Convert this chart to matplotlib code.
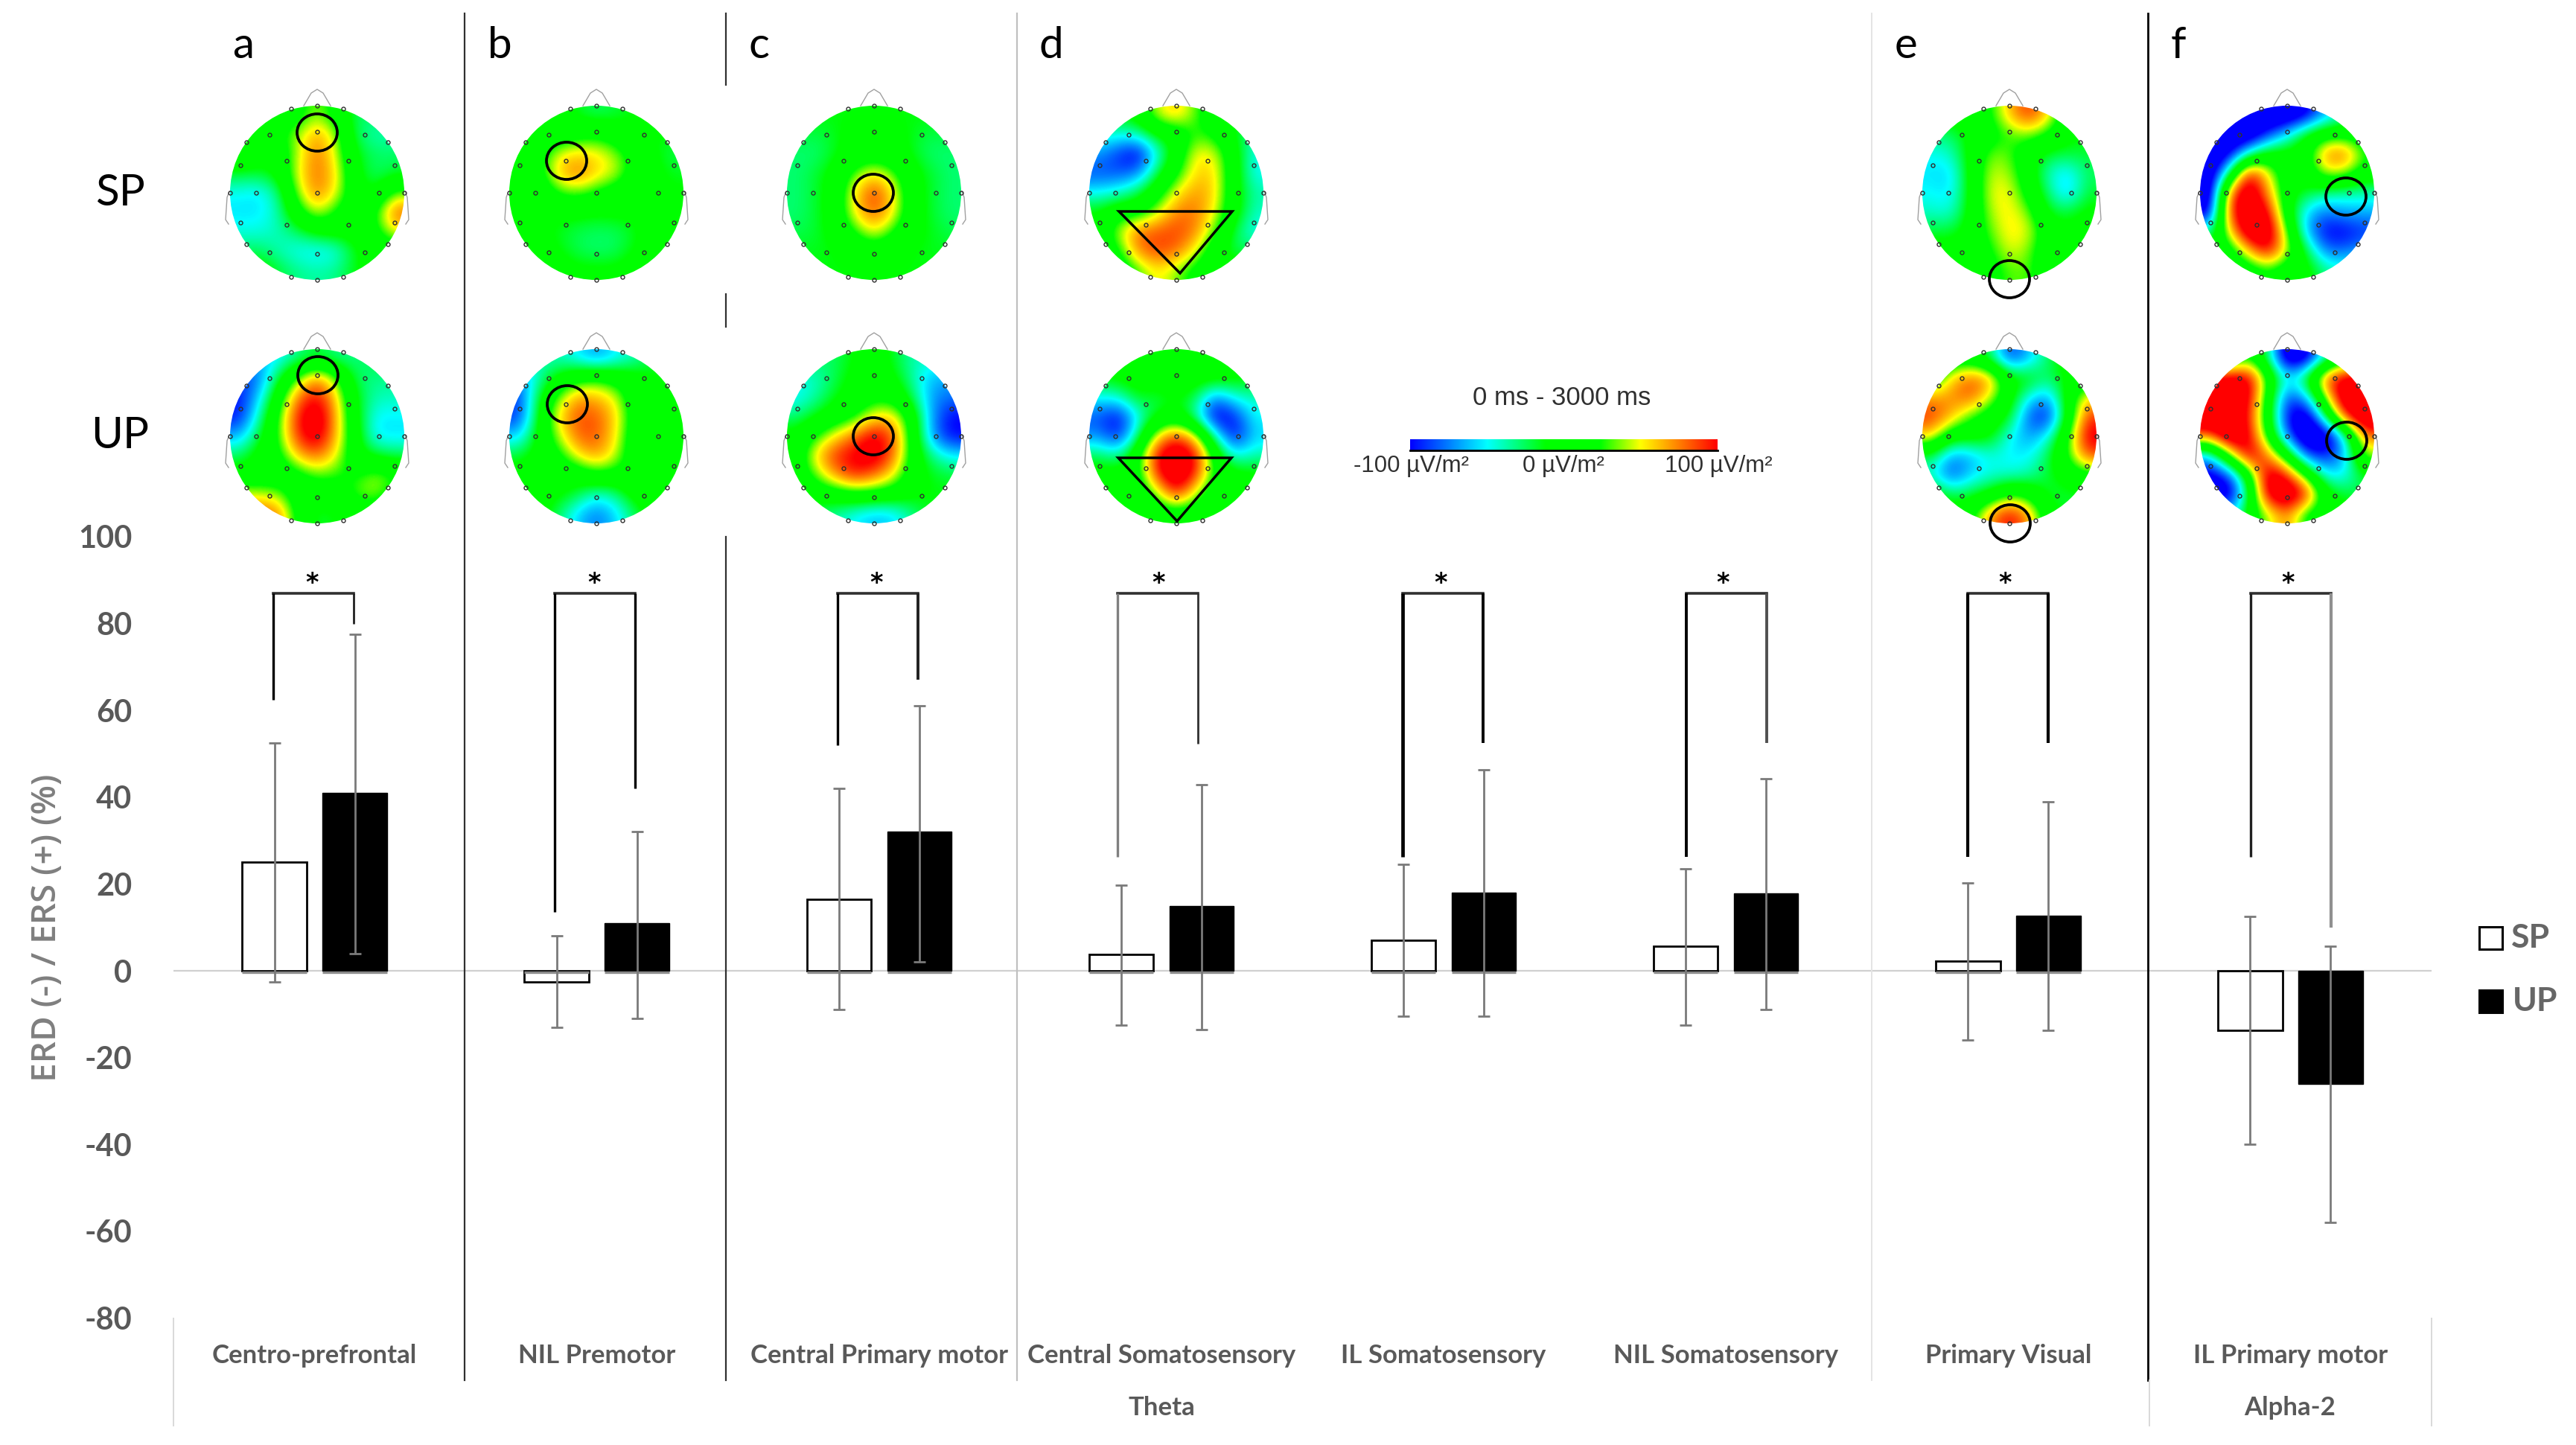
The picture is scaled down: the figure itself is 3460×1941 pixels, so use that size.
#!/usr/bin/env python3
"""ERD/ERS bars with scalp maps above them"""

import matplotlib
matplotlib.use('Agg')
import matplotlib.pyplot as plt
import numpy as np
from matplotlib.colors import LinearSegmentedColormap
from matplotlib.patches import Circle, Ellipse, Polygon, Rectangle

plt.rcParams['font.family'] = ['Lato', 'DejaVu Sans']

categories = ['Centro-prefrontal', 'NIL Premotor', 'Central Primary motor', 'Central Somatosensory',
              'IL Somatosensory', 'NIL Somatosensory', 'Primary Visual', 'IL Primary motor']
sp_values = [25, -2.5, 16.5, 3.8, 7, 5.6, 2.3, -13.8]
up_values = [41, 11, 32, 14.9, 18, 17.8, 12.7, -26.1]
sp_top = [52.5, 8, 42, 19.8, 24.6, 23.5, 20.3, 12.5]
sp_bottom = [-2.5, -13, -9, -12.5, -10.5, -12.5, -15.9, -40]
up_top = [77.5, 32, 61, 42.8, 46.3, 44.3, 38.9, 5.7]
up_bottom = [4, -11, 2, -13.5, -10.5, -9, -13.8, -57.9]
bracket_top = 87
bracket_left = [62.5, 13.6, 52, 26.3, 26.3, 26.3, 26.3, 26.3]
bracket_right = [80, 42, 67, 52.4, 52.5, 52.5, 52.5, 10]
y_ticks = [-80, -60, -40, -20, 0, 20, 40, 60, 80, 100]

# scalp potential on a 9x9 grid, front row first, left to right (uV/m2)
topo_a_sp = [[0, 0, 0, 10, 30, 10, -20, -20, -20],
             [0, 0, 15, 30, 55, 30, -20, -30, -30],
             [20, 0, 0, 33, 62, 35, -10, -20, -20],
             [-15, -15, -5, 38, 62, 42, -5, -22, -15],
             [-38, -42, -25, 30, 60, 38, 0, -10, 25],
             [-42, -42, -30, 10, 38, 15, 0, 15, 65],
             [-35, -35, -30, -20, -5, 0, 0, 10, 40],
             [-20, -20, -30, -38, -42, -38, -10, 0, 0],
             [0, 0, -15, -25, -28, -25, -10, 0, 0]]
topo_a_up = [[-50, -50, -40, -25, -15, -25, -25, -15, -15],
             [-70, -60, -15, 25, 60, 25, -20, -25, -25],
             [-75, -45, 5, 60, 80, 45, -10, -30, -30],
             [-75, -30, 20, 75, 95, 50, -5, -40, -40],
             [-50, -15, 20, 72, 90, 48, 0, -42, -42],
             [-20, 0, 10, 48, 62, 38, 0, -12, -18],
             [0, 0, 0, 8, 25, 20, 15, 32, 20],
             [35, 35, 30, 0, 0, 5, 25, 30, 10],
             [65, 65, 60, 10, -15, -10, 0, 0, 0]]
topo_b_sp = [[0, 0, 0, -12, -20, -15, -10, 0, 0],
             [0, 0, 0, 10, 15, 5, -5, -10, -10],
             [-5, 5, 38, 45, 42, 30, 8, -8, -18],
             [-5, 10, 45, 62, 45, 35, 8, -5, -12],
             [-5, -5, 20, 25, 15, 5, -5, -5, -8],
             [0, -5, -5, -5, -8, -5, -5, 0, 0],
             [0, -5, -12, -18, -20, -20, -12, 0, 0],
             [0, 0, -8, -18, -22, -20, -8, 0, 0],
             [0, 0, 0, -5, -5, -5, 0, 0, 0]]
topo_b_up = [[-30, -30, -30, -40, -55, -40, -30, -15, -15],
             [-60, -30, -5, 10, 20, 8, 0, -8, -8],
             [-70, -15, 25, 55, 50, 38, 0, -5, -8],
             [-70, -10, 42, 65, 65, 45, 5, -5, -8],
             [-45, -5, 30, 62, 65, 42, 0, 0, 0],
             [-15, 0, 10, 40, 55, 35, 0, 0, 5],
             [0, 0, 0, 0, 15, 10, 12, 28, 18],
             [0, 0, -5, -15, -35, -25, 0, 5, 5],
             [0, 0, -20, -45, -60, -45, -20, 0, 0]]
topo_c_sp = [[-10, -10, -10, -10, -10, -10, -10, -10, -10],
             [-15, -18, -12, -3, -3, -3, -12, -18, -15],
             [-22, -22, -12, 0, 5, 0, -12, -22, -22],
             [-22, -15, -3, 25, 42, 25, -3, -15, -22],
             [-22, -15, 0, 42, 72, 42, 0, -15, -22],
             [-22, -15, 0, 42, 65, 42, 0, -15, -22],
             [-18, -15, -3, 18, 42, 18, -3, -12, -18],
             [-12, -12, -10, -3, 3, -3, -10, -12, -12],
             [-10, -10, -10, -10, -10, -10, -10, -10, -10]]
topo_c_up = [[-20, -20, -20, -8, 0, -12, -30, -30, -30],
             [-35, -32, -18, -3, 0, -5, -28, -50, -50],
             [-40, -28, -10, 0, 12, 10, -18, -55, -60],
             [-22, -8, 3, 15, 42, 45, 5, -55, -78],
             [-3, 18, 42, 62, 85, 65, 8, -55, -78],
             [0, 45, 72, 82, 90, 62, 8, -25, -40],
             [0, 25, 55, 75, 62, 40, 3, -12, -15],
             [-5, 0, 3, 12, 10, 5, -5, -10, -10],
             [-20, -20, -28, -40, -48, -45, -25, -10, -10]]
topo_d_sp = [[-10, -10, 0, 35, 48, 25, 0, -10, -10],
             [-30, -35, -32, -8, 0, 22, 15, -10, -30],
             [-55, -70, -85, -38, 0, 42, 38, 0, -38],
             [-65, -65, -58, -18, 15, 45, 45, 0, -38],
             [-38, -32, -18, 8, 40, 55, 45, 0, -28],
             [-8, 8, 8, 32, 58, 60, 38, 0, -32],
             [0, 32, 62, 65, 68, 58, 25, -18, -38],
             [0, 12, 58, 68, 62, 38, 0, -18, -18],
             [0, 0, 20, 42, 28, 10, 0, 0, 0]]
topo_d_up = [[0, 0, 0, 8, 12, 8, 0, 0, 0],
             [-10, -5, 0, 0, 5, 0, 0, -5, -10],
             [-38, -35, -10, -18, -8, -18, -60, -35, -30],
             [-65, -80, -40, -10, 0, -30, -85, -75, -38],
             [-55, -75, -25, 42, 70, 42, -30, -80, -45],
             [-18, -28, 10, 80, 100, 80, 10, -38, -28],
             [0, 0, 5, 72, 100, 72, 12, 0, -5],
             [0, 0, 0, 25, 75, 30, 0, 0, 0],
             [0, 0, 0, 0, 0, 0, 0, 0, 0]]
topo_e_sp = [[0, 0, 0, 15, 48, 72, 45, 0, 0],
             [-22, -22, -3, 8, 22, 28, 15, -5, -10],
             [-38, -32, -3, 28, 25, 0, -15, -15, -15],
             [-42, -45, -3, 35, 32, 3, -32, -45, -20],
             [-38, -42, -5, 38, 40, 10, -22, -50, -15],
             [-32, -35, -3, 32, 42, 28, -12, -15, -5],
             [-15, -15, 0, 25, 42, 38, 3, -5, 0],
             [0, 0, 0, 15, 38, 28, 0, 0, 0],
             [0, 0, 0, 8, 25, 25, 0, 0, 0]]
topo_e_up = [[0, 0, 0, -20, -70, -50, -20, 0, 0],
             [0, 45, 65, 55, 0, -5, -22, -5, 0],
             [55, 55, 65, 35, 0, -40, -55, 0, 45],
             [70, 50, 20, 5, -10, -65, -78, -5, 70],
             [45, 0, 0, -5, -38, -55, -38, 15, 85],
             [-18, -55, -50, -35, -40, -40, -18, 20, 65],
             [-35, -68, -45, -35, -35, -30, -15, 0, 10],
             [0, -18, -15, -5, 20, 10, -15, -15, -10],
             [0, 0, 10, 55, 80, 55, 0, -15, -15]]
topo_f_sp = [[-100, -100, -100, -100, -100, -85, -50, -30, 0],
             [-100, -100, -100, -70, -40, -5, 10, 10, 0],
             [-100, -85, -30, 0, 0, 5, 60, 65, 20],
             [-100, -25, 85, 40, 0, 0, 35, 30, 5],
             [-100, 60, 100, 55, 0, -15, -25, -30, -30],
             [-90, 70, 100, 85, 0, -45, -60, -50, -50],
             [-30, 40, 100, 100, 25, -50, -80, -80, -70],
             [0, 0, 45, 85, 35, -15, -60, -60, -50],
             [0, 0, 0, 15, 0, 0, -25, -30, -30]]
topo_f_up = [[0, -10, 20, -20, -100, -90, -30, 0, 0],
             [80, 90, 90, 20, -40, -10, 70, 90, 90],
             [100, 105, 85, 10, -70, -50, 30, 105, 100],
             [105, 105, 75, 5, -80, -100, -20, 70, 105],
             [60, 105, 85, 15, -60, -105, -100, -40, 60],
             [-50, 20, 90, 60, 5, -65, -75, -50, 30],
             [-85, -70, 0, 95, 75, 15, -40, -40, -10],
             [-100, -95, -20, 90, 105, 80, 0, -15, -20],
             [0, -50, 0, 30, 60, 10, 0, 0, 0]]

# electrode places, in head radii
elec_x = [0, -.55, .55, -.35, .36, -.88, .89, -.7, 0, .71, -1, 1, -.88, -.35, .36, .89,
          -.55, 0, .55, -.3, .3, -.3, .3, 0, -.81, .81, -.81, .81, 0]
elec_y = [-.70, -.67, -.67, -.365, -.365, -.32, -.32, 0, 0, 0, 0, 0, .34, .37, .37, .34,
          .68, .70, .68, -.97, -.97, .97, .97, 1, -.58, -.58, .59, .59, -1]

GREY = '#595959'
TOPO_GAIN = 1.3  # my grid readings came out too flat against the colour scale
W, H = 3460, 1941
fig = plt.figure(figsize=(W / 100, H / 100), dpi=100)

# bars
ax = fig.add_axes([233 / W, 1 - 1770.4 / H, (3266 - 233) / W, (1770.4 - 721) / H])
ax.set_xlim(0, 8)
ax.set_ylim(-80, 100)
for s in ax.spines.values():
    s.set_visible(False)
centers = np.arange(8) + 0.5
sp_x = centers - 0.1425
up_x = centers + 0.1425
BAR_W = 0.228
ax.axhline(0, color='#d0d0d0', lw=1.6, zorder=1)
ax.bar(sp_x, sp_values, width=BAR_W, color='white', edgecolor='black', linewidth=2, zorder=2)
ax.bar(up_x, up_values, width=BAR_W, color='black', edgecolor='black', linewidth=1, zorder=2)
# the bars stand on a grey foot in the original
foot_y = np.full(7, -0.4)
ax.hlines(foot_y, sp_x[:7] - BAR_W / 2, sp_x[:7] + BAR_W / 2, color='#8c8c8c', lw=2.4, zorder=3)
ax.hlines(foot_y, up_x[:7] - BAR_W / 2, up_x[:7] + BAR_W / 2, color='#8c8c8c', lw=2.4, zorder=3)
sp_v, up_v = np.array(sp_values), np.array(up_values)
ax.errorbar(sp_x, sp_v, yerr=[sp_v - np.array(sp_bottom), np.array(sp_top) - sp_v], fmt='none',
            ecolor='#7a7a7a', elinewidth=2, capsize=6, capthick=2, zorder=3)
ax.errorbar(up_x, up_v, yerr=[up_v - np.array(up_bottom), np.array(up_top) - up_v], fmt='none',
            ecolor='#7a7a7a', elinewidth=2, capsize=6, capthick=2, zorder=3)

# brackets: the legs were drawn by hand, so they differ a little
bracket_dx = [-2, -3, -2, -4.5, -1, 1, 0, 1]
left_color = ['black', 'black', 'black', '#808080', 'black', 'black', 'black', '#202020']
left_lw = [2.4, 2.4, 2.4, 2.4, 3.4, 2.8, 3, 2.4]
right_color = ['#202020', 'black', '#202020', '#303030', 'black', '#505050', 'black', '#909090']
right_lw = [2, 2.4, 2.8, 2, 2.8, 2.8, 3, 3]
px = 8 / (3266 - 233)
for i in range(8):
    x0 = sp_x[i] + bracket_dx[i] * px
    x1 = up_x[i] + bracket_dx[i] * px
    ax.plot([x0, x1], [bracket_top, bracket_top], color='#303030', lw=2.6, solid_capstyle='projecting', zorder=4)
    ax.plot([x0, x0], [bracket_top, bracket_left[i]], color=left_color[i], lw=left_lw[i],
            solid_capstyle='butt', zorder=4)
    ax.plot([x1, x1], [bracket_top, bracket_right[i]], color=right_color[i], lw=right_lw[i],
            solid_capstyle='butt', zorder=4)
    ax.text(centers[i] - 0.01, 89.8, '*', ha='center', va='center_baseline', fontsize=24, family='DejaVu Sans',
            fontweight='bold', color='black')
ax.set_yticks(y_ticks)
ax.set_yticklabels(y_ticks, fontsize=30, fontweight='bold', color=GREY)
ax.set_xticks(centers)
ax.set_xticklabels(categories, fontsize=25, fontweight='bold', color=GREY)
ax.tick_params(axis='both', length=0)
ax.tick_params(axis='y', pad=40)
ax.tick_params(axis='x', pad=25)

# overlay in picture pixels
ov = fig.add_axes([0, 0, 1, 1], zorder=5)
ov.set_xlim(0, W)
ov.set_ylim(H, 0)
ov.axis('off')
ov.patch.set_alpha(0)

topo_cmap = LinearSegmentedColormap.from_list('topo', [
    (0.0, (0, 0, 1)), (0.25, (0, 1, 1)), (0.44, (0, 1, 0)), (0.62, (0, 1, 0)),
    (0.75, (1, 1, 0)), (1.0, (1, 0, 0))])


def draw_head(cx, cy, grid, r=117):
    im = ov.imshow(np.array(grid) * TOPO_GAIN, extent=(cx - r, cx + r, cy + r, cy - r), cmap=topo_cmap,
                   vmin=-100, vmax=100, interpolation='bicubic', aspect='auto', zorder=2)
    im.set_clip_path(Circle((cx, cy), r, transform=ov.transData))
    # nose and ears
    ov.plot([cx - 18, cx - 8, cx, cx + 8, cx + 18], [cy - r, cy - r - 17, cy - r - 22, cy - r - 17, cy - r],
            color='#a0a0a0', lw=1, zorder=1)
    for side in (-1, 1):
        ov.plot([cx + side * (r + 1), cx + side * (r + 4), cx + side * (r + 6), cx + side * (r + 2)],
                [cy - 2, cy + 6, cy + 36, cy + 42], color='#a0a0a0', lw=1, zorder=1)
    ov.plot(cx + np.array(elec_x) * r, cy + np.array(elec_y) * r, 'o', ms=3.6, mfc='none', mec='#303030',
            mew=1, zorder=4)


head_x = [426, 801, 1174, 1580, 2699, 3072]
head_y = [259, 586]
sp_maps = [topo_a_sp, topo_b_sp, topo_c_sp, topo_d_sp, topo_e_sp, topo_f_sp]
up_maps = [topo_a_up, topo_b_up, topo_c_up, topo_d_up, topo_e_up, topo_f_up]
for x, sp_map, up_map in zip(head_x, sp_maps, up_maps):
    draw_head(x, head_y[0], sp_map)
    draw_head(x, head_y[1], up_map)

# marked regions
for cx, cy in [(426, 178), (427, 504), (761, 216), (762, 543), (1173, 259), (1173, 586),
               (2699, 375), (2700, 703), (3151, 264), (3152, 592)]:
    ov.add_patch(Ellipse((cx, cy), 54, 50, fill=False, ec='black', lw=2.7, zorder=6))
ov.add_patch(Polygon([(1503, 284), (1655, 284), (1585, 367)], fill=False, ec='black', lw=2.5, zorder=6))
ov.add_patch(Polygon([(1502, 615), (1654, 615), (1581, 700)], fill=False, ec='black', lw=2.5, zorder=6))

# separators
ov.plot([624, 624], [18, 1854], color='#303030', lw=1.6)
for y0, y1 in [(18, 114), (395, 439), (721, 1854)]:
    ov.plot([975, 975], [y0, y1], color='#303030', lw=1.6)
ov.plot([1366, 1366], [18, 1854], color='#c0c0c0', lw=1.6)
ov.plot([2514, 2514], [18, 1854], color='#e4e4e4', lw=1.4)
ov.plot([2885, 2885], [18, 1854], color='black', lw=2)
ov.plot([2887, 2887], [1854, 1915], color='#d9d9d9', lw=1.4)
ov.plot([233, 233], [1771, 1915], color='#d9d9d9', lw=1.4)
ov.plot([3266, 3266], [1771, 1915], color='#d9d9d9', lw=1.4)

# panel letters and row names
for letter, x in zip('abcdef', [327, 671, 1019, 1412, 2560, 2926]):
    ov.text(x, 62, letter, fontsize=42, ha='center', va='center', color='black')
ov.text(161, 260, 'SP', fontsize=42, ha='center', va='center', color='black')
ov.text(161, 586, 'UP', fontsize=42, ha='center', va='center', color='black')

ov.text(64, 1246, 'ERD (-) / ERS (+) (%)', rotation=90, fontsize=33, fontweight='semibold', family='Open Sans',
        color='#7f7f7f', ha='center', va='center')
ov.text(1560, 1891, 'Theta', fontsize=25, fontweight='bold', color=GREY, ha='center', va='center')
ov.text(3076, 1891, 'Alpha-2', fontsize=25, fontweight='bold', color=GREY, ha='center', va='center')

# colour scale
scale_values = np.linspace(-100, 100, 256).reshape(1, -1)
ov.imshow(scale_values, extent=(1894, 2307, 605, 590), cmap=topo_cmap, vmin=-100, vmax=100, aspect='auto')
ov.plot([1894, 2307], [605, 605], color='black', lw=2)
ov.set_xlim(0, W)
ov.set_ylim(H, 0)
ov.text(2098, 535, '0 ms - 3000 ms', family='Liberation Sans', fontsize=25, color='#303030', ha='center', va='center')
for x, lab in zip([1896, 2100, 2308], ['-100 µV/m²', '0 µV/m²', '100 µV/m²']):
    ov.text(x, 626, lab, family='Liberation Sans', fontsize=22.5, color='#303030', ha='center', va='center')

# legend
ov.add_patch(Rectangle((3330, 1245), 31, 30, fc='white', ec='black', lw=2.2))
ov.add_patch(Rectangle((3330, 1330), 31, 30, fc='black', ec='black', lw=2.2))
ov.text(3373, 1260, 'SP', fontsize=32, fontweight='bold', color='#666666', ha='left', va='center')
ov.text(3375, 1345, 'UP', fontsize=32, fontweight='bold', color='#666666', ha='left', va='center')

fig.savefig('out.png', dpi=100, facecolor='white')
